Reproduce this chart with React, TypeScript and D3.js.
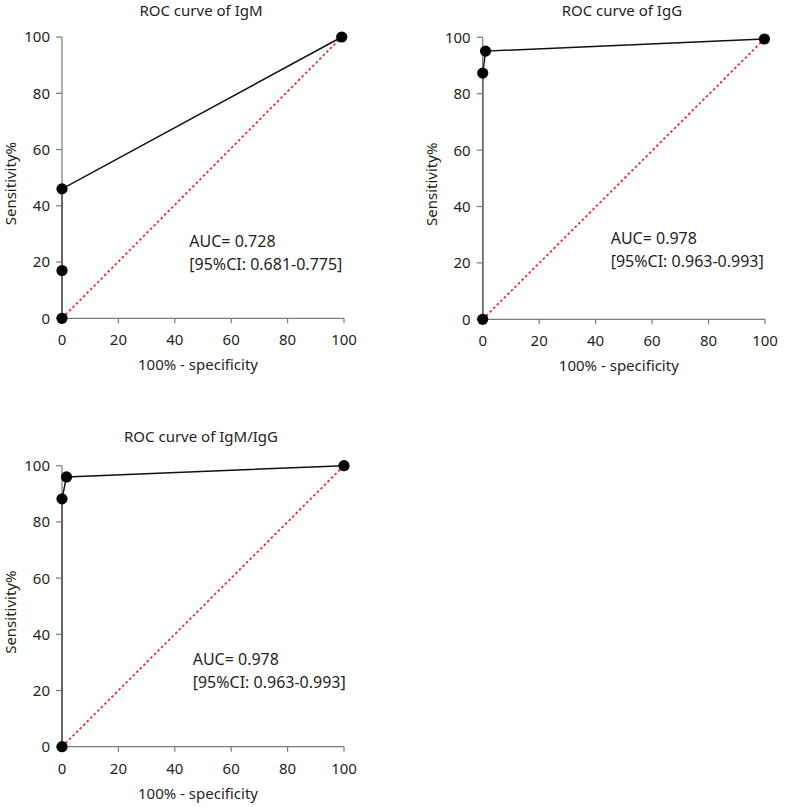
import React from "react";
import * as d3 from "d3";

const titles = ["ROC curve of IgM", "ROC curve of IgG", "ROC curve of IgM/IgG"];
const igmFpr = [0, 0, 0, 99.2];
const igmTpr = [0, 17, 46, 100];
const iggFpr = [0, 0, 1, 99.8];
const iggTpr = [0, 87.3, 95.1, 99.4];
const ratioFpr = [0, 0, 1.6, 100];
const ratioTpr = [0, 88.2, 96, 100];
const aucLabels = ["AUC= 0.728", "AUC= 0.978", "AUC= 0.978"];
const ciLabels = ["[95%CI: 0.681-0.775]", "[95%CI: 0.963-0.993]", "[95%CI: 0.963-0.993]"];
const xTicks = [0, 20, 40, 60, 80, 100];
const yTicks = [0, 20, 40, 60, 80, 100];
const xLabel = "100% - specificity";
const yLabel = "Sensitivity%";

const series = [
  { fpr: igmFpr, tpr: igmTpr },
  { fpr: iggFpr, tpr: iggTpr },
  { fpr: ratioFpr, tpr: ratioTpr },
];

// panel layout (pixels)
const layout = [
  { left: 62, right: 344, top: 37, bottom: 318.3, titleY: 16, annX: 189.3, annY: 246.7 },
  { left: 482.7, right: 765, top: 37.3, bottom: 319.3, titleY: 16, annX: 610.7, annY: 243.5 },
  { left: 62, right: 344, top: 465.7, bottom: 746.7, titleY: 442, annX: 192.7, annY: 665 },
];

const FONT = "'Noto Sans', sans-serif";
const TEXT = "#231f20";
const AXIS = "#7a7a7a";

function Panel({ idx }: { idx: number }) {
  const L = layout[idx];
  const s = series[idx];
  const x = d3.scaleLinear().domain([0, 100]).range([L.left, L.right]);
  const y = d3.scaleLinear().domain([0, 100]).range([L.bottom, L.top]);
  const pts: [number, number][] = s.fpr.map((f, i) => [f, s.tpr[i]]);
  const line = d3
    .line<[number, number]>()
    .x((d) => x(d[0]))
    .y((d) => y(d[1]));
  const last = pts[pts.length - 1];
  const diag: [number, number][] = [[0, 0], last];
  const cx = (L.left + L.right) / 2;
  return (
    <g>
      <text x={(L.left + L.right) / 2 - 2} y={L.titleY} textAnchor="middle" fontFamily={FONT} fontSize={15} fill={TEXT}>
        {titles[idx]}
      </text>
      {/* chance line */}
      <path d={line(diag) || ""} fill="none" stroke="#e0312f" strokeWidth={1.8} strokeDasharray="2.5,2.5" />
      {/* ROC curve */}
      <path d={line(pts) || ""} fill="none" stroke="#111" strokeWidth={1.5} />
      {/* axes */}
      <line x1={L.left} x2={L.right} y1={L.bottom} y2={L.bottom} stroke={AXIS} strokeWidth={1.2} />
      <line x1={L.left} x2={L.left} y1={L.bottom} y2={L.top} stroke={AXIS} strokeWidth={1.2} />
      {xTicks.map((t) => (
        <g key={"x" + t}>
          <line x1={x(t)} x2={x(t)} y1={L.bottom} y2={L.bottom + 5} stroke={AXIS} strokeWidth={1.2} />
          <text x={x(t)} y={L.bottom + 27} textAnchor="middle" fontFamily={FONT} fontSize={15} fill={TEXT}>
            {t}
          </text>
        </g>
      ))}
      {yTicks.map((t) => (
        <g key={"y" + t}>
          <line x1={L.left - 6} x2={L.left} y1={y(t)} y2={y(t)} stroke={AXIS} strokeWidth={1.2} />
          <text x={L.left - 12} y={y(t)} dy="0.36em" textAnchor="end" fontFamily={FONT} fontSize={15} fill={TEXT}>
            {t}
          </text>
        </g>
      ))}
      <text x={cx - 5} y={L.bottom + 52} textAnchor="middle" fontFamily={FONT} fontSize={15} fill={TEXT}>
        {xLabel}
      </text>
      <text
        transform={`translate(${L.left - 46},${(L.top + L.bottom) / 2 + 6}) rotate(-90)`}
        textAnchor="middle"
        fontFamily={FONT}
        fontSize={15}
        fill={TEXT}
      >
        {yLabel}
      </text>
      {pts.map((p, i) => (
        <circle key={i} cx={x(p[0])} cy={y(p[1])} r={5.6} fill="#000" />
      ))}
      <text x={L.annX} y={L.annY} fontFamily={FONT} fontSize={16} fill={TEXT}>
        {aucLabels[idx]}
      </text>
      <text x={L.annX} y={L.annY + 23} fontFamily={FONT} fontSize={16} fill={TEXT}>
        {ciLabels[idx]}
      </text>
    </g>
  );
}

export default function App() {
  return (
    <svg
      width={791}
      height={807}
      style={{ position: "absolute", left: 0, top: 0, background: "#fff" }}
    >
      <rect width={791} height={807} fill="#fff" />
      {[0, 1, 2].map((i) => (
        <Panel key={i} idx={i} />
      ))}
    </svg>
  );
}
